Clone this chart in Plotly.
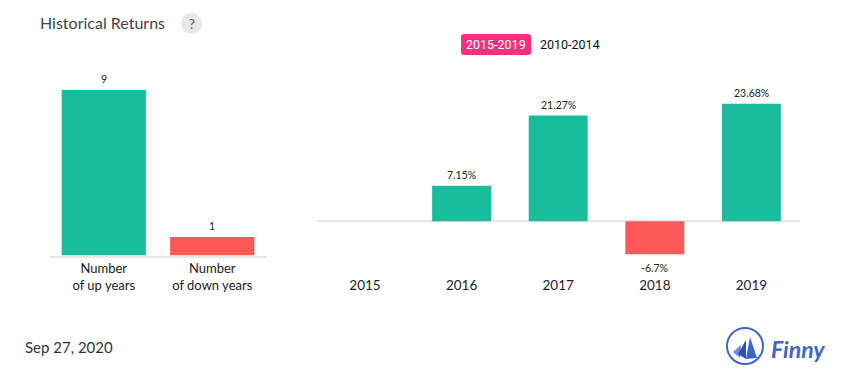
import plotly.graph_objects as go

W, H = 855, 382

count_labels = ["Number<br>of up years", "Number<br>of down years"]
count_values = [9, 1]
count_text = ["9", "1"]
count_colors = ["#1abc9c", "#ff5858"]
years = ["2015", "2016", "2017", "2018", "2019"]
returns = [None, 7.15, 21.27, -6.7, 23.68]
return_text = ["", "7.15%", "21.27%", "-6.7%", "23.68%"]

TEAL = "#1abc9c"
RED = "#ff5858"
PINK = "#fb2f80"
BLUE = "#3f66c4"
FONT = "Lato"


def px(x):
    return x / W


def py(y):
    return 1 - y / H


def colors(values):
    return [TEAL if (v or 0) >= 0 else RED for v in values]


fig = go.Figure()
fig.add_trace(go.Bar(
    x=count_labels, y=count_values,
    marker=dict(color=count_colors, line_width=0), width=0.776,
    xaxis="x", yaxis="y", hoverinfo="skip",
))
fig.add_trace(go.Bar(
    x=years, y=returns,
    marker=dict(color=colors(returns), line_width=0), width=0.61,
    xaxis="x2", yaxis="y2", hoverinfo="skip",
))

r = 3
rx0, rx1, ry0, ry1 = 461, 531, 34, 55
pill = (f"M {px(rx0 + r):.5f},{py(ry0):.5f} L {px(rx1 - r):.5f},{py(ry0):.5f} "
        f"Q {px(rx1):.5f},{py(ry0):.5f} {px(rx1):.5f},{py(ry0 + r):.5f} "
        f"L {px(rx1):.5f},{py(ry1 - r):.5f} "
        f"Q {px(rx1):.5f},{py(ry1):.5f} {px(rx1 - r):.5f},{py(ry1):.5f} "
        f"L {px(rx0 + r):.5f},{py(ry1):.5f} "
        f"Q {px(rx0):.5f},{py(ry1):.5f} {px(rx0):.5f},{py(ry1 - r):.5f} "
        f"L {px(rx0):.5f},{py(ry0 + r):.5f} "
        f"Q {px(rx0):.5f},{py(ry0):.5f} {px(rx0 + r):.5f},{py(ry0):.5f} Z")

shapes = [
    dict(type="circle", xref="paper", yref="paper", x0=px(181), x1=px(202),
         y0=py(34), y1=py(13), fillcolor="#e8e8e8", line_width=0),
    dict(type="path", xref="paper", yref="paper", path=pill, fillcolor=PINK, line_width=0),
    dict(type="circle", xref="paper", yref="paper", x0=px(727), x1=px(763),
         y0=py(364), y1=py(328), fillcolor="white", line=dict(color=BLUE, width=2)),
]
for pts, col in [
    ([(733, 352), (741, 345), (740, 358)], "#6f8ad6"),
    ([(738, 354), (746, 340), (746, 359)], "#2c4fb0"),
    ([(746, 359), (750, 337), (757, 358)], BLUE),
]:
    d = "M " + " L ".join(f"{px(x):.5f},{py(y):.5f}" for x, y in pts) + " Z"
    shapes.append(dict(type="path", xref="paper", yref="paper", path=d,
                       fillcolor=col, line_width=0))


def note(x, y, text, size, color="#222222", family=FONT, anchor="left"):
    return dict(xref="paper", yref="paper", x=px(x), y=py(y), text=text,
                showarrow=False, xanchor=anchor, yanchor="middle",
                font=dict(family=family, size=size, color=color))


annotations = [
    note(38, 22.5, "Historical Returns", 16, "#444444"),
    note(191.5, 24, "?", 13, "#555555", anchor="center"),
    note(496, 45, "2015-2019", 12.5, "#ffffff", family="Roboto", anchor="center"),
    note(570, 45, "2010-2014", 12.5, "#111111", family="Roboto", anchor="center"),
    note(23, 347, "Sep 27, 2020", 15, "#333333"),
    note(769, 349, "<b><i>Finny</i></b>", 23, BLUE, family="Lato"),
]


def value_label(x, y, text, xref, yref):
    neg = y < 0
    return dict(x=x, y=y, xref=xref, yref=yref, text=text, showarrow=False,
                yanchor="top" if neg else "bottom", yshift=-5 if neg else 3,
                font=dict(family=FONT, size=10.5, color="#222222"))


for i, (val, txt) in enumerate(zip(count_values, count_text)):
    annotations.append(value_label(i, val, txt, "x", "y"))
for i, (val, txt) in enumerate(zip(returns, return_text)):
    if val is not None:
        annotations.append(value_label(i, val, txt, "x2", "y2"))

fig.update_layout(
    width=W, height=H, margin=dict(l=0, r=0, t=0, b=0),
    paper_bgcolor="white", plot_bgcolor="white", showlegend=False,
    font=dict(family=FONT), shapes=shapes, annotations=annotations,
    xaxis=dict(domain=[px(49.5), px(266.5)], anchor="y", type="category", automargin=False,
               range=[-0.5, 1.5], showgrid=False, showline=True,
               linecolor="#e6e6e6", linewidth=2, ticks="",
               tickfont=dict(family=FONT, size=13, color="#222222")),
    yaxis=dict(domain=[py(255.5), py(90)], range=[0, 9], visible=False, automargin=False),
    xaxis2=dict(domain=[px(316.7), px(799.7)], anchor="y2", type="category", automargin=False,
                range=[-0.5, 4.5], showgrid=False, showline=False,
                ticks="outside", ticklen=18, tickcolor="white",
                tickfont=dict(family=FONT, size=13.5, color="#222222")),
    yaxis2=dict(domain=[py(254.6), py(103.6)], range=[-6.7, 23.68], showgrid=False,
                automargin=False, showticklabels=False, ticks="", zeroline=True,
                zerolinecolor="#e6e6e6", zerolinewidth=1.5, showline=False),
)
fig.write_html("out.html", config=dict(displayModeBar=False),
               post_script="document.body.style.margin='0';")
